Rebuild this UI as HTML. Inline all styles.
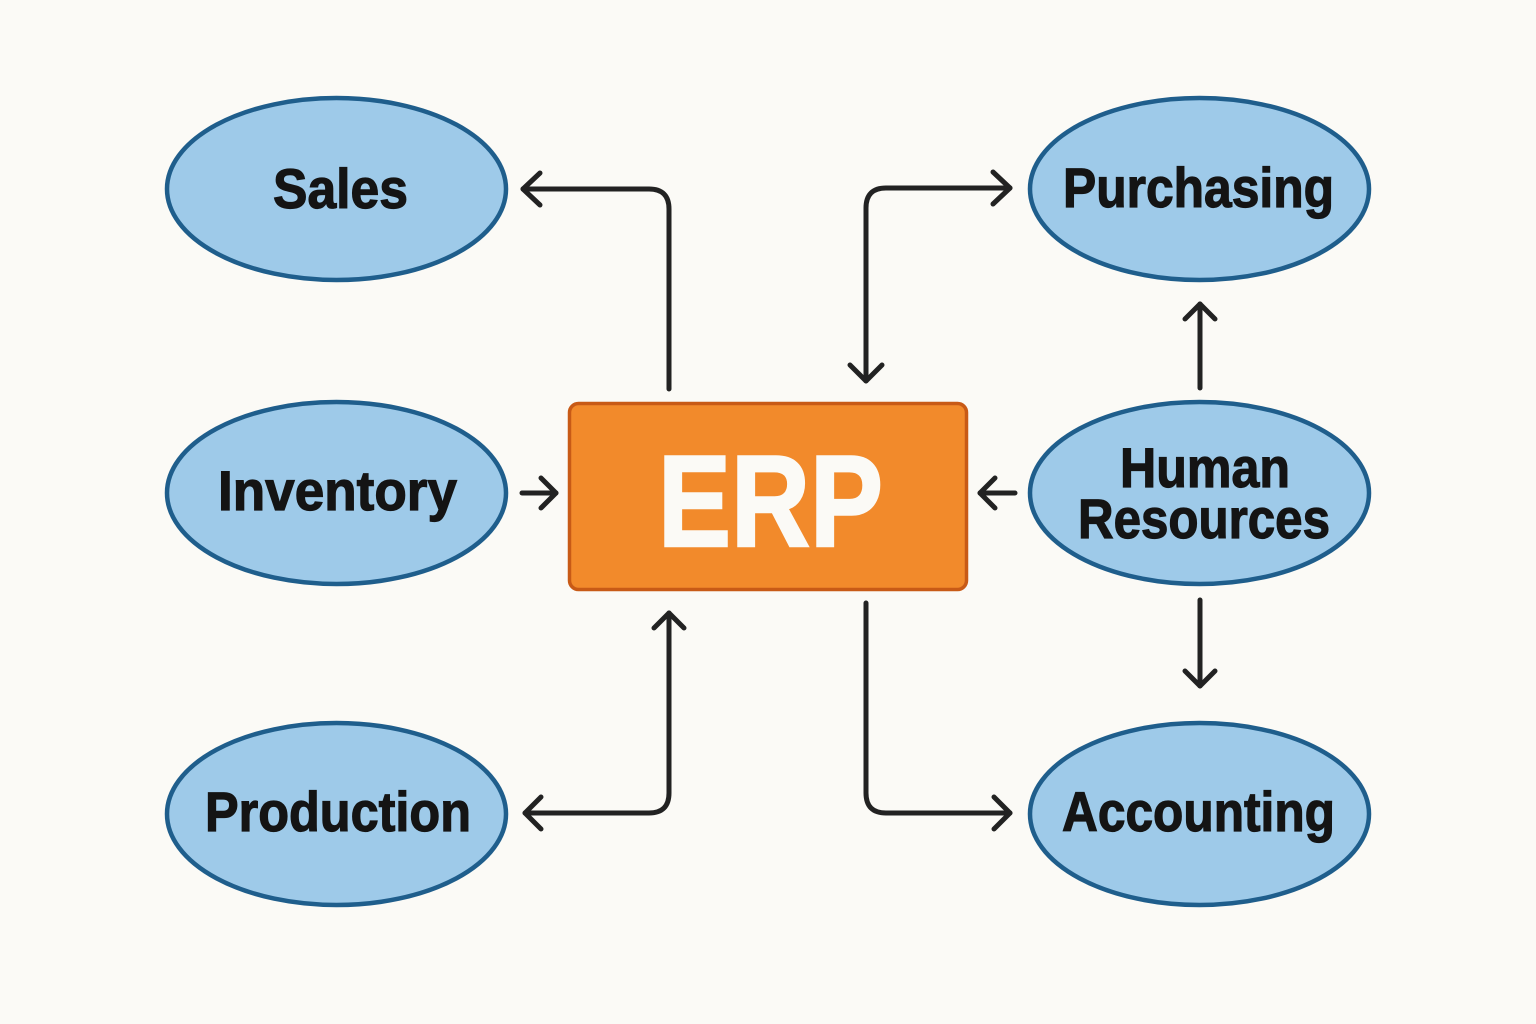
<!DOCTYPE html>
<html>
<head>
<meta charset="utf-8">
<style>
  html,body{margin:0;padding:0;background:#fbfaf6;}
  svg{display:block;}
  .lbl{font-family:"Liberation Sans",Arial,sans-serif;font-weight:bold;fill:#141414;stroke:#141414;stroke-width:1.2px;font-size:56px;}
</style>
</head>
<body>
<svg width="1536" height="1024" viewBox="0 0 1536 1024" xmlns="http://www.w3.org/2000/svg">
  <rect x="0" y="0" width="1536" height="1024" fill="#fbfaf6"/>

  <!-- Ellipses -->
  <g fill="#9ecae9" stroke="#1f5e8c" stroke-width="4.5">
    <ellipse cx="336.5" cy="189" rx="169.5" ry="91"/>
    <ellipse cx="336.5" cy="493" rx="169.5" ry="91"/>
    <ellipse cx="336.5" cy="814" rx="169.5" ry="91"/>
    <ellipse cx="1199.5" cy="189" rx="169.5" ry="91"/>
    <ellipse cx="1199.5" cy="493" rx="169.5" ry="91"/>
    <ellipse cx="1199.5" cy="814" rx="169.5" ry="91"/>
  </g>

  <!-- ERP box -->
  <rect x="569.5" y="403.5" width="397" height="186" rx="9" ry="9" fill="#f28a2b" stroke="#c85a16" stroke-width="3.5"/>
  <text x="658" y="546" font-family="Liberation Sans, Arial, sans-serif" font-weight="bold" font-size="130" fill="#fbfaf6" stroke="#fbfaf6" stroke-width="2.5" textLength="225" lengthAdjust="spacingAndGlyphs">ERP</text>

  <!-- Labels -->
  <text class="lbl" x="273" y="208" textLength="135" lengthAdjust="spacingAndGlyphs">Sales</text>
  <text class="lbl" x="218" y="510" textLength="239" lengthAdjust="spacingAndGlyphs">Inventory</text>
  <text class="lbl" x="205" y="831" textLength="266" lengthAdjust="spacingAndGlyphs">Production</text>
  <text class="lbl" x="1063" y="207" textLength="271" lengthAdjust="spacingAndGlyphs">Purchasing</text>
  <text class="lbl" x="1120" y="487" textLength="170" lengthAdjust="spacingAndGlyphs">Human</text>
  <text class="lbl" x="1078" y="538" textLength="252" lengthAdjust="spacingAndGlyphs">Resources</text>
  <text class="lbl" x="1062" y="831" textLength="273" lengthAdjust="spacingAndGlyphs">Accounting</text>

  <!-- Connectors -->
  <g fill="none" stroke="#222222" stroke-width="5" stroke-linecap="round" stroke-linejoin="round">
    <!-- ERP -> Sales -->
    <path d="M669 389 V209 Q669 189 649 189 H523"/>
    <polyline points="540,173 523,189 540,205"/>

    <!-- ERP <-> Purchasing -->
    <path d="M866 381 V208 Q866 188 886 188 H1010"/>
    <polyline points="993,172 1010,188 993,204"/>
    <polyline points="850,365 866,381 882,365"/>

    <!-- Inventory -> ERP -->
    <path d="M522 493 H556"/>
    <polyline points="541,478 556,493 541,508"/>

    <!-- HR -> ERP -->
    <path d="M1015 493 H980"/>
    <polyline points="995,478 980,493 995,508"/>

    <!-- HR -> Purchasing -->
    <path d="M1200 388 V304"/>
    <polyline points="1185,319 1200,304 1215,319"/>

    <!-- HR -> Accounting -->
    <path d="M1200 600 V686"/>
    <polyline points="1185,671 1200,686 1215,671"/>

    <!-- Production <-> ERP -->
    <path d="M669 613 V793 Q669 813 649 813 H525"/>
    <polyline points="654,628 669,613 684,628"/>
    <polyline points="541,797 525,813 541,829"/>

    <!-- ERP -> Accounting -->
    <path d="M866 603 V793 Q866 813 886 813 H1010"/>
    <polyline points="994,797 1010,813 994,829"/>
  </g>
</svg>
</body>
</html>
